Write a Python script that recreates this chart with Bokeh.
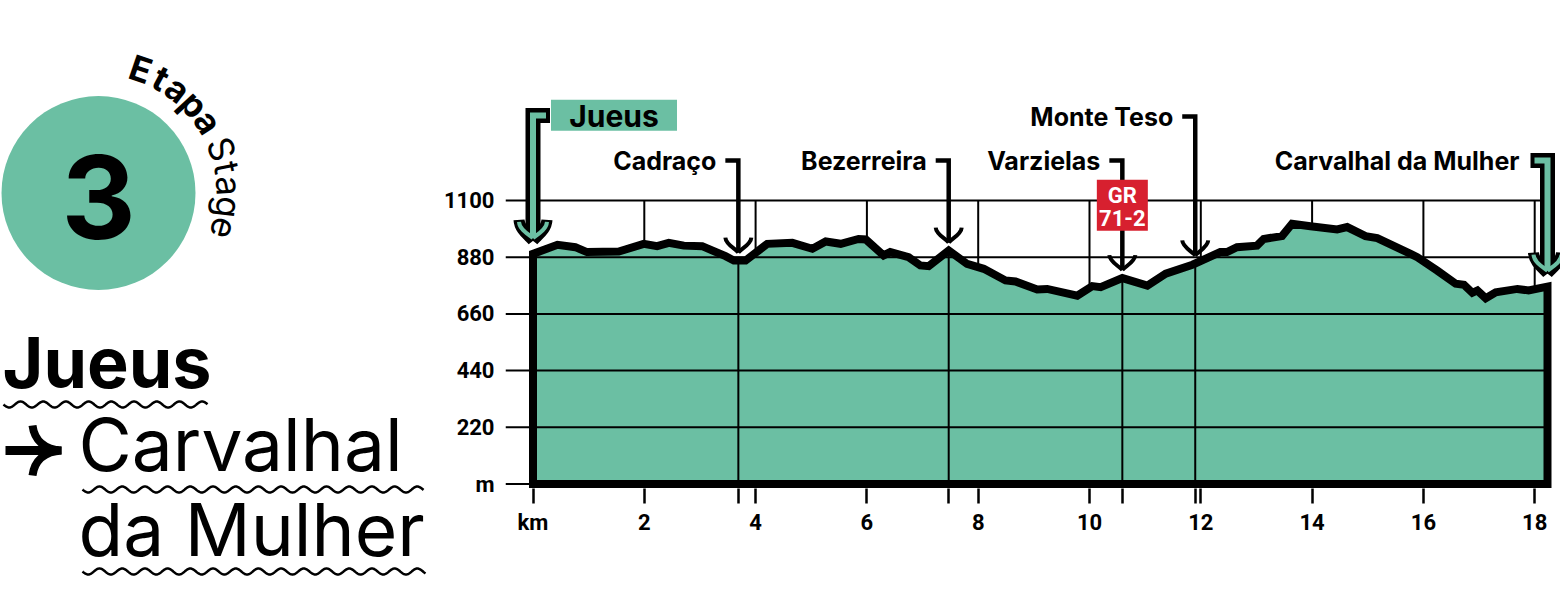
import numpy as np
from bokeh.plotting import figure
from bokeh.layouts import row
from bokeh.models import Range1d, FixedTicker
from bokeh.core.properties import value
from bokeh.embed import file_html
from bokeh.resources import INLINE

# ---------------- data ----------------
km = [0.00, 0.44, 0.76, 0.97, 1.54, 1.99, 2.23, 2.44, 2.71, 3.04,
      3.46, 3.61, 3.82, 4.21, 4.66, 5.02, 5.26, 5.53, 5.85, 5.98,
      6.30, 6.42, 6.75, 6.96, 7.11, 7.47, 7.80, 8.10, 8.49, 8.67,
      9.06, 9.24, 9.78, 10.05, 10.20, 10.59, 11.04, 11.37, 11.85, 12.35,
      12.47, 12.65, 13.01, 13.13, 13.46, 13.64, 13.97, 14.45, 14.63, 14.96,
      15.17, 15.77, 15.89, 16.25, 16.58, 16.73, 16.88, 16.97, 17.12, 17.30,
      17.69, 17.89, 18.23]
elev = [893, 928, 919, 900, 902, 932, 923, 936, 925, 923,
        884, 867, 867, 932, 936, 913, 941, 932, 951, 949,
        887, 900, 880, 848, 845, 906, 854, 835, 790, 786,
        755, 757, 731, 768, 764, 799, 770, 816, 851, 900,
        900, 919, 925, 951, 962, 1010, 1000, 988, 997, 962,
        954, 893, 880, 828, 777, 773, 742, 751, 721, 744,
        757, 751, 766]

place_names = ["Jueus", "Cadraço", "Bezerreira", "Varzielas", "Monte Teso", "Carvalhal da Mulher"]
place_km = [0.0, 3.69, 7.47, 10.59, 11.90, 18.23]
place_kind = ["end", "via", "via", "via", "via", "end"]

trail_label = ["GR", "71-2"]
trail_km = 10.59

x_ticks = [0, 2, 4, 6, 8, 10, 12, 14, 16, 18]
y_ticks = [0, 220, 440, 660, 880, 1100]

stage_no = "3"
title_from = "Jueus"
title_to = ["Carvalhal", "da Mulher"]
arc_word1 = "Etapa"
arc_word2 = "Stage"

GREEN = "#6BBFA3"
RED = "#D7202F"

# ---------------- layout helpers (reference pixel -> data) ----------------
X0, KPX = 532.5, 55.65      # px of km 0, px per km
Y0, MPX = 483.5, 0.2577     # px of 0 m, px per metre
def kx(px): return (px - X0) / KPX
def ey(py): return (Y0 - py) / MPX
def dk(d): return d / KPX
def dm(d): return d / MPX

LW = 430
p = figure(width=1560 - LW, height=583, title=None,
           x_range=Range1d(kx(505), kx(1560)), y_range=Range1d(ey(488), ey(0)),
           toolbar_location=None, output_backend="svg",
           min_border_left=505 - LW, min_border_right=0, min_border_top=0, min_border_bottom=583 - 488)
p.outline_line_color = None
p.xgrid.visible = False
p.ygrid.visible = False

# axes
p.xaxis.ticker = FixedTicker(ticks=x_ticks, minor_ticks=place_km[1:5])
p.xaxis.major_label_overrides = {0: "km"}
p.yaxis.ticker = FixedTicker(ticks=y_ticks)
p.yaxis.major_label_overrides = {0: "m"}
for ax in (p.xaxis[0], p.yaxis[0]):
    ax.axis_line_color = None
    ax.major_label_text_font = "Roboto"
    ax.major_label_text_font_style = "bold"
    ax.major_label_text_font_size = "22px"
    ax.major_label_text_color = "black"
p.xaxis.major_tick_in = 0
p.xaxis.major_tick_out = 15
p.xaxis.major_tick_line_width = 2.5
p.xaxis.minor_tick_in = 0
p.xaxis.minor_tick_out = 15
p.xaxis.minor_tick_line_width = 2.5
p.xaxis.minor_tick_line_color = "black"
p.xaxis.major_label_standoff = 6
p.yaxis.major_tick_in = 0
p.yaxis.major_tick_out = 0
p.yaxis.major_tick_line_color = None
p.yaxis.minor_tick_line_color = None
p.yaxis.major_label_standoff = 11

xend = km[-1]
# vertical km grid (under fill)
vk = [t for t in x_ticks if t > 0]
p.segment(x0=vk, y0=[0] * len(vk), x1=vk, y1=[y_ticks[-1]] * len(vk), line_color="black", line_width=2)

# profile fill
poly_x = [0.0] + km + [xend, 0.0]
poly_y = [0] + elev + [0, 0]
p.patch(poly_x, poly_y, fill_color=GREEN, line_color=None)

# horizontal grid over fill
p.segment(x0=[kx(505)] * len(y_ticks), y0=y_ticks, x1=[xend] * len(y_ticks), y1=y_ticks,
          line_color="black", line_width=2)

# thin marker lines below profile
prof_at = np.interp(place_km, km, elev)
via = [i for i, k in enumerate(place_kind) if k == "via"]
p.segment(x0=[place_km[i] for i in via], y0=[0] * len(via),
          x1=[place_km[i] for i in via], y1=[prof_at[i] for i in via],
          line_color="black", line_width=2)

# profile outline
p.patch(poly_x, poly_y, fill_color=None, line_color="black", line_width=8, line_join="miter")

label_px = [115, 160, 160, 160, 116, 160]
LBL_FONT = dict(text_font=value("Inter"), text_font_style="bold", text_font_size="25px",
                text_baseline="middle", text_color="black")

# via markers (black)
for i in via:
    sx = place_km[i]
    tip = prof_at[i] + dm(8)
    ly = ey(label_px[i])
    p.line([sx - dk(13), sx, sx], [ly, ly, tip], line_color="black", line_width=4.5, line_join="miter")
    for s in (-1, 1):
        p.bezier(x0=sx + s * dk(13), y0=tip + dm(15), cx0=sx + s * dk(12.5), cy0=tip + dm(8),
                 cx1=sx + s * dk(3), cy1=tip + dm(4), x1=sx, y1=tip,
                 line_color="black", line_width=4)
    p.text(x=[sx], y=[ly], text=[place_names[i]], x_offset=-22, text_align="right", **LBL_FONT)

# end markers (green arrows)
ends = [i for i, k in enumerate(place_kind) if k == "end"]
for i in ends:
    sx = place_km[i]
    d = 1 if sx < 1 else -1
    tip = prof_at[i] + dm(13)
    ly = ey(label_px[i])
    p.line([sx + d * dk(17), sx, sx], [ly, ly, tip], line_color="black", line_width=15, line_join="miter")
    for s in (-1, 1):
        p.bezier(x0=sx + s * dk(14), y0=tip + dm(21), cx0=sx + s * dk(13.5), cy0=tip + dm(11),
                 cx1=sx + s * dk(4), cy1=tip + dm(5), x1=sx, y1=tip,
                 line_color="black", line_width=11)
    p.line([sx + d * dk(13), sx, sx], [ly, ly, tip + dm(3)], line_color=GREEN, line_width=6, line_join="miter")
    for s in (-1, 1):
        p.bezier(x0=sx + s * dk(14), y0=tip + dm(19), cx0=sx + s * dk(13.5), cy0=tip + dm(11),
                 cx1=sx + s * dk(4), cy1=tip + dm(6), x1=sx, y1=tip + dm(3),
                 line_color=GREEN, line_width=4)
    if d == 1:
        p.rect(x=[sx + dk(18 + 63)], y=[ey(114.7)], width=126, height=31,
               width_units="screen", height_units="screen", fill_color=GREEN, line_color=None)
        p.text(x=[sx + dk(18 + 63)], y=[ey(115)], text=[place_names[i]],
               text_font=value("Inter"), text_font_style="bold", text_font_size="30px",
               text_align="center", text_baseline="middle", text_color="black")
    else:
        p.text(x=[sx], y=[ly], text=[place_names[i]], x_offset=-28, text_align="right", **LBL_FONT)

# trail badge
p.rect(x=[trail_km], y=[ey(204.7)], width=51, height=51, width_units="screen", height_units="screen",
       fill_color=RED, line_color=None)
p.text(x=[trail_km, trail_km], y=[ey(195), ey(217.5)], text=trail_label,
       text_font=value("Roboto"), text_font_style="bold", text_font_size="22px",
       text_align="center", text_baseline="middle", text_color="white")

# ---------------- left panel ----------------
L = figure(width=LW, height=583, title=None, x_range=Range1d(0, LW), y_range=Range1d(-583, 0),
           toolbar_location=None, output_backend="svg", min_border=0,
           x_axis_type=None, y_axis_type=None)
L.outline_line_color = None
L.grid.visible = False

for fig in (L, p):
    try:
        fig.frame_align = False
    except Exception:
        pass

cx, cy = 98, -192.5
L.circle(x=[cx], y=[cy], radius=97, fill_color=GREEN, line_color=None)
L.text(x=[cx], y=[-196.5], text=[stage_no], text_font=value("Inter"), text_font_style="bold",
       text_font_size="115px", text_align="center", text_baseline="middle", text_color="black")

arc_angles1 = [71.2, 61.4, 52.6, 42.8, 33.0]
arc_angles2 = [19.7, 11.2, 3.1, -6.3, -15.7]
R = 131
for word, angs, style in ((arc_word1, arc_angles1, "bold"), (arc_word2, arc_angles2, "normal")):
    th = np.radians(angs)
    L.text(x=cx + R * np.cos(th), y=cy + R * np.sin(th), text=list(word), angle=th - np.pi / 2,
           text_font=value("Inter"), text_font_style=style, text_font_size="35px",
           text_align="center", text_baseline="middle", text_color="black")

L.text(x=[2], y=[-361.5], text=[title_from], text_font=value("Inter"), text_font_style="bold",
       text_font_size="70px", text_align="left", text_baseline="middle", text_color="black")
L.text(x=[78, 78], y=[-444, -529], text=title_to, text_font=value("Inter"),
       text_font_style="normal", text_font_size="73px", text_align="left",
       text_baseline="middle", text_color="black")

def wave(x0, x1, yc, period=22.7, amp=3.0):
    xs = np.arange(x0, x1 + 0.5, 0.5)
    return xs, -(yc + amp * np.sin(2 * np.pi * (xs - x0) / period))

for (a, b, yc) in ((3, 207, 404), (82, 423, 489), (82, 425, 571)):
    wx, wy = wave(a, b, yc)
    L.line(wx, wy, line_color="black", line_width=2.5)

# arrow glyph
L.line([5, 58], [-450, -450], line_color="black", line_width=9)
for s in (-1, 1):
    L.bezier(x0=32, y0=-450 + s * 25, cx0=34, cy0=-450 + s * 10, cx1=44, cy1=-450 + s * 1,
             x1=61, y1=-450, line_color="black", line_width=8)

layout = row(L, p)
open("out.html", "w").write(file_html(layout, INLINE))
